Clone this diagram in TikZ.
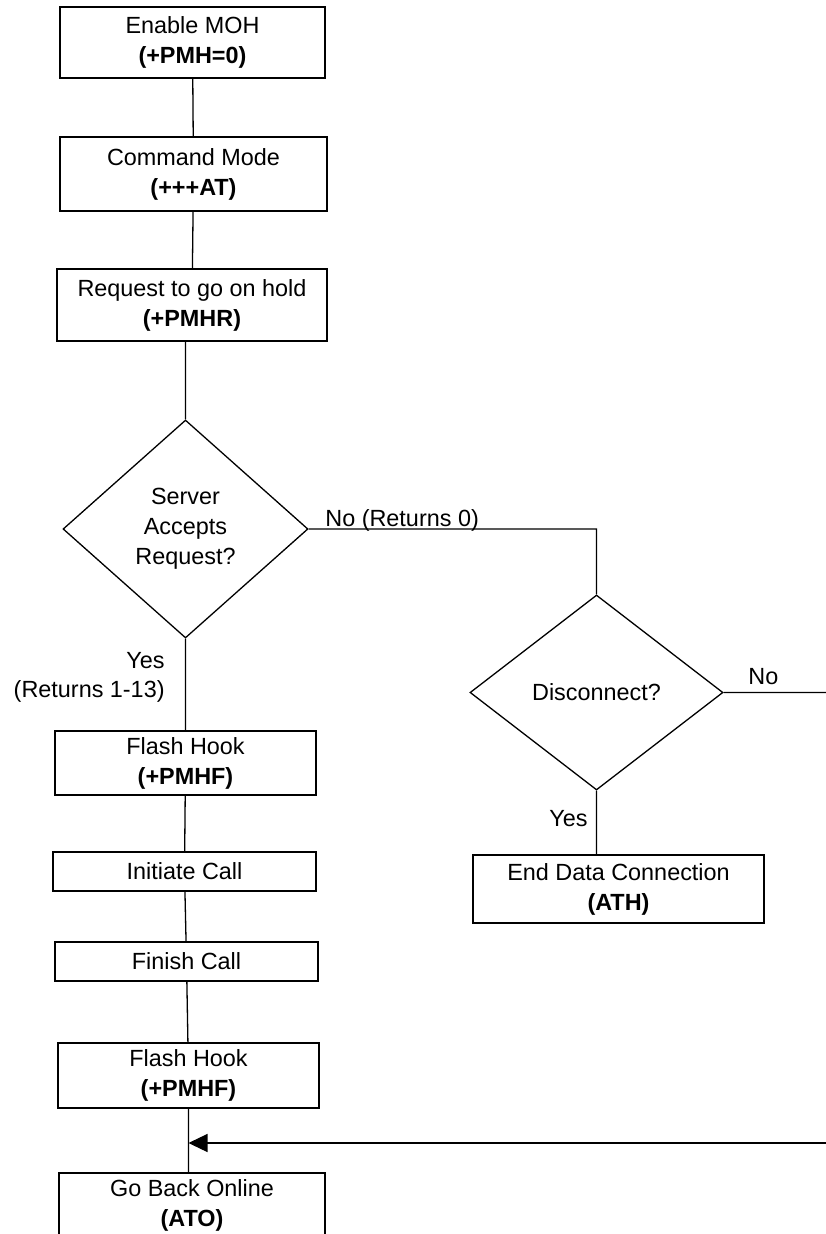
\documentclass[tikz,border=0pt]{standalone}
\usepackage{fontspec}
\setmainfont{Liberation Sans}
\usetikzlibrary{shapes.geometric,arrows.meta}

\tikzset{
  box/.style={shape=rectangle,draw=black,line width=0.65pt,align=center,inner sep=0pt},
  decision/.style={shape=diamond,draw=black,line width=0.65pt,align=center,inner sep=0pt},
  lbl/.style={inner sep=0pt},
  flow/.style={draw=black,line width=0.65pt}
}

\begin{document}
\begin{tikzpicture}[x=0.5pt,y=-0.5pt,font=\fontsize{11.7}{15}\selectfont]
      \useasboundingbox (0,0) rectangle (825,1234);
      % left column
      \node[box,minimum width=132.5pt,minimum height=35.5pt] (moh)  at (192.5,42.5) {Enable MOH\\\textbf{(+PMH=0)}};
      \node[box,minimum width=133.5pt,minimum height=37pt] (cmd)  at (193.5,174) {Command Mode\\\textbf{(+++AT)}};
      \node[box,minimum width=135pt,minimum height=36pt] (hold)  at (192,305) {Request to go on hold\\\textbf{(+PMHR)}};
      \node[decision,minimum width=122.5pt,minimum height=109pt] (accept) at (185.5,529) {Server\\Accepts\\Request?};
      \node[box,minimum width=130.5pt,minimum height=32pt] (flash1)  at (185.5,763) {Flash Hook\\\textbf{(+PMHF)}};
      \node[box,minimum width=131.5pt,minimum height=19.5pt] (initiate)  at (184.5,871.5) {Initiate Call};
      \node[box,minimum width=131.5pt,minimum height=19.5pt] (finish)  at (186.5,961.5) {Finish Call};
      \node[box,minimum width=130.5pt,minimum height=32.5pt] (flash2)  at (188.5,1075.5) {Flash Hook\\\textbf{(+PMHF)}};
      \node[box,minimum width=133pt,minimum height=32.5pt] (online)  at (192,1205.5) {Go Back Online\\\textbf{(ATO)}};
      % right column
      \node[decision,minimum width=126.5pt,minimum height=97.5pt] (disc) at (596.5,692.5) {Disconnect?};
      \node[box,minimum width=145.5pt,minimum height=34pt] (athend)  at (618.5,889) {End Data Connection\\\textbf{(ATH)}};
      % labels
      \node[lbl,anchor=base west] (noret) at (325,526) {No (Returns 0)};
      \node[lbl,anchor=base east] (yes1) at (165,668) {Yes};
      \node[lbl,anchor=base east] (ret1) at (165,697) {(Returns 1-13)};
      \node[lbl,anchor=base west] (no2) at (748,684) {No};
      \node[lbl,anchor=base east] (yes2) at (588,826) {Yes};
      \coordinate (noend) at (830,692.5);
      \coordinate (back) at (830,1143);
      \path[flow]
      (moh) -- (cmd)
      (cmd) -- (hold)
      (hold.south -| accept.north) -- (accept.north)
      (accept) -- (flash1)
      (flash1) -- (initiate)
      (initiate) -- (finish)
      (finish) -- (flash2)
      (flash2.south) -- (flash2.south |- online.north)
      (accept.east) -- (accept.east -| disc.north) -- (disc.north)
      (disc) -- (athend.north -| disc.south)
      (disc.east) -- (noend);
      \draw[flow,-{Triangle[length=9.5pt,width=9pt]}] (back) -- (flash2.south |- back);
\end{tikzpicture}
\end{document}
